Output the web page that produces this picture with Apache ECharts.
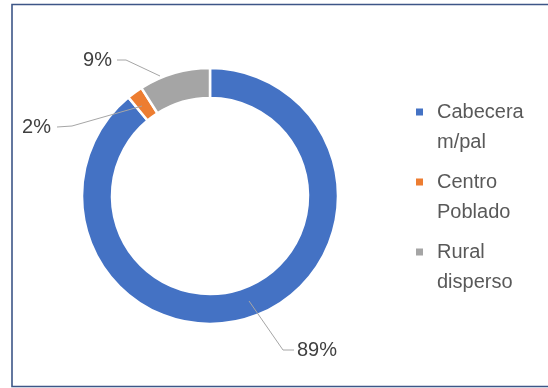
<!DOCTYPE html>
<html>
<head>
<meta charset="utf-8">
<script src="https://cdn.jsdelivr.net/npm/echarts@6/dist/echarts.min.js"></script>
<style>
html,body{margin:0;padding:0;background:#fff;}
#c{width:548px;height:388px;}
</style>
</head>
<body>
<div id="c"></div>
<script>
var categories = ['Cabecera m/pal', 'Centro Poblado', 'Rural disperso'];
var values = [89, 2, 9];
var colors = ['#4472C4', '#ED7D31', '#A5A5A5'];

var chart = echarts.init(document.getElementById('c'), null, {renderer: 'canvas'});
var data = categories.map(function (n, i) {
  return {name: n, value: values[i], itemStyle: {color: colors[i]}};
});
var labelData = categories.map(function (n, i) {
  return {name: n, value: values[i]};
});

// label placement (layout only)
var labelPlaces = [
  {x: 297, y: 350, align: 'left', pts: [[249, 301], [283, 350], [294, 350]]},
  {x: 51, y: 127, align: 'right', pts: [[142, 106], [72, 126], [57, 127]]},
  {x: 112, y: 60, align: 'right', pts: [[160, 76], [126, 60], [117, 60]]}
];

chart.setOption({
  backgroundColor: '#ffffff',
  animation: false,
  graphic: [{
    type: 'rect',
    shape: {x: 12, y: 4.5, width: 600, height: 382},
    style: {fill: 'none', stroke: '#3d5687', lineWidth: 1.6},
    silent: true
  }],
  legend: {
    orient: 'vertical',
    left: 416,
    top: 97,
    itemGap: 10,
    itemWidth: 16,
    itemHeight: 60,
    icon: 'path://M0,11.5h7v7h-7z M0,0L0.01,0 M16,60L15.99,60',
    itemStyle: {borderWidth: 0},
    padding: 0,
    formatter: function (n) { return n.replace(' ', '\n'); },
    textStyle: {fontFamily: 'Liberation Sans', fontSize: 20, lineHeight: 30, color: '#595959'},
    data: categories
  },
  series: [{
    type: 'pie',
    z: 2,
    center: [210, 196],
    radius: [98, 128],
    startAngle: 90,
    clockwise: true,
    data: data,
    itemStyle: {borderColor: '#ffffff', borderWidth: 2.5},
    emphasis: {disabled: true},
    label: {show: false},
    labelLine: {show: false}
  }, {
    type: 'pie',
    z: 5,
    center: [210, 196],
    radius: [98, 128],
    startAngle: 90,
    clockwise: true,
    silent: true,
    data: labelData,
    itemStyle: {color: 'rgba(0,0,0,0)', borderWidth: 0},
    emphasis: {disabled: true},
    label: {
      show: true,
      formatter: '{c}%',
      fontFamily: 'Liberation Sans',
      fontSize: 20,
      color: '#404040'
    },
    labelLine: {show: true, length: 20, length2: 10, lineStyle: {color: '#A6A6A6', width: 1}},
    labelLayout: function (p) {
      var L = labelPlaces[p.dataIndex];
      return {x: L.x, y: L.y, align: L.align, verticalAlign: 'middle', labelLinePoints: L.pts};
    }
  }]
});
</script>
</body>
</html>
